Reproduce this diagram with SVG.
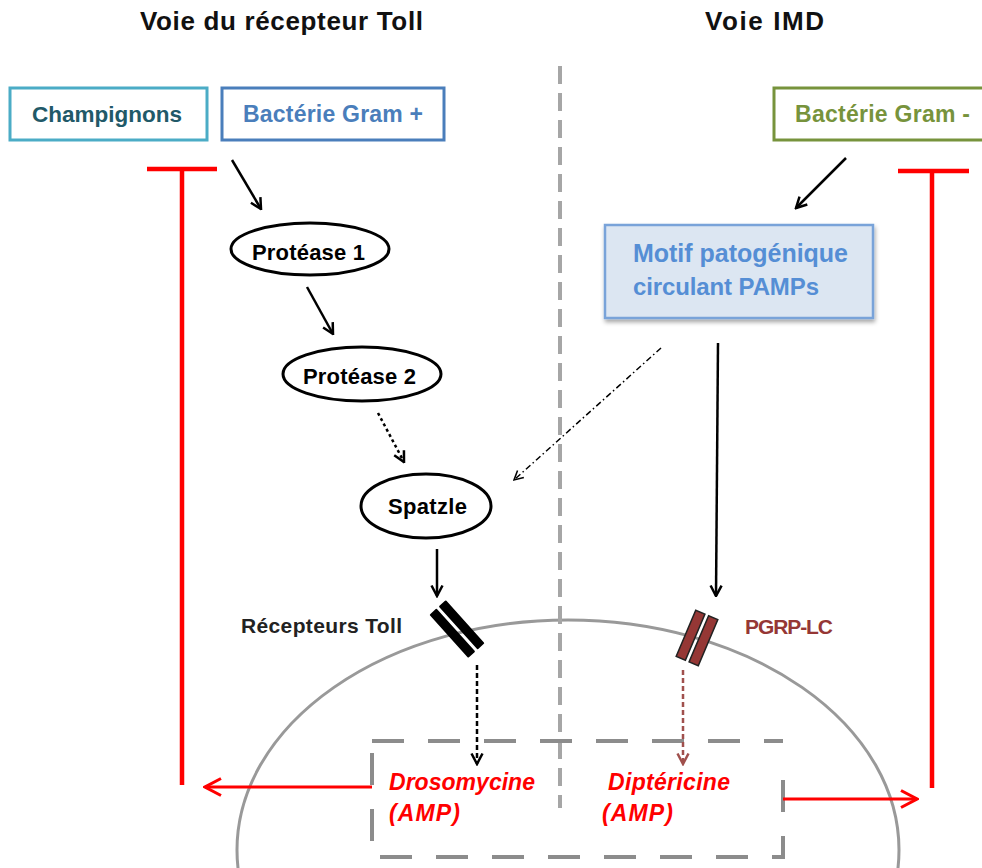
<svg xmlns="http://www.w3.org/2000/svg" width="982" height="868" viewBox="0 0 982 868">
<style>
  .t { font-family: "Liberation Sans", Arial, sans-serif; font-weight: bold; }
  .title { font-size: 26px; fill: #111; }
  .node { font-size: 22px; fill: #000; }
  .ell { fill: #fff; stroke: #000; stroke-width: 3; }
  .amp { font-size: 23px; font-style: italic; fill: #ff0000; }
  .red { stroke: #ff0000; stroke-width: 4.5; fill: none; }
  .redarr { stroke: #ff0000; stroke-width: 3; fill: none; }
  .blk { stroke: #000; stroke-width: 2.5; fill: none; }
  .gray { stroke: #8c8c8c; stroke-width: 4; fill: none; stroke-dasharray: 32 24; }
</style>
<defs>
  <marker id="ab" viewBox="0 0 14 14" refX="12.5" refY="7" markerWidth="14" markerHeight="14" markerUnits="userSpaceOnUse" orient="auto">
    <path d="M2,1.5 L12.5,7 L2,12.5" fill="none" stroke="#000" stroke-width="2.5"/>
  </marker>
  <marker id="abs" viewBox="0 0 14 14" refX="12.5" refY="7" markerWidth="12" markerHeight="12" markerUnits="userSpaceOnUse" orient="auto">
    <path d="M2,1.5 L12.5,7 L2,12.5" fill="none" stroke="#000" stroke-width="1.8"/>
  </marker>
  <marker id="abr" viewBox="0 0 14 14" refX="12.5" refY="7" markerWidth="14" markerHeight="14" markerUnits="userSpaceOnUse" orient="auto">
    <path d="M2,1.5 L12.5,7 L2,12.5" fill="none" stroke="#a0504d" stroke-width="2.5"/>
  </marker>
  <marker id="ar" viewBox="0 0 20 20" refX="18" refY="10" markerWidth="20" markerHeight="20" markerUnits="userSpaceOnUse" orient="auto">
    <path d="M2,1.5 L18,10 L2,18.5" fill="none" stroke="#ff0000" stroke-width="3"/>
  </marker>
  <filter id="sh" x="-10%" y="-10%" width="120%" height="130%">
    <feDropShadow dx="1" dy="3" stdDeviation="2" flood-color="#000" flood-opacity="0.35"/>
  </filter>
</defs>

<rect width="982" height="868" fill="#fff"/>

<!-- titles -->
<text class="t title" x="140" y="30" textLength="283">Voie du récepteur Toll</text>
<text class="t title" x="705" y="30" textLength="119">Voie IMD</text>

<!-- cell membrane and nucleus region -->
<g id="cell">
  <ellipse cx="568" cy="850" rx="331" ry="230" fill="none" stroke="#999" stroke-width="3"/>
</g>
<g id="separator">
  <line x1="560" y1="66" x2="560" y2="808" stroke="#a6a6a6" stroke-width="4" stroke-dasharray="18 9"/>
</g>
<g id="nucleus-box">
  <path class="gray" d="M372,741 H783"/>
  <path class="gray" d="M372,753 V857 H783 V762"/>
</g>

<!-- source nodes -->
<g id="champignons">
  <rect x="10" y="88" width="197" height="52" fill="#fff" stroke="#4bacc6" stroke-width="3"/>
  <text class="t" x="32" y="122" font-size="22.5" fill="#215968" textLength="150">Champignons</text>
</g>
<g id="gram-plus">
  <rect x="222" y="88" width="222" height="52" fill="#fff" stroke="#4a7ebb" stroke-width="3"/>
  <text class="t" x="243" y="122" font-size="23" fill="#4a7ebb" textLength="180">Bactérie Gram +</text>
</g>
<g id="gram-minus">
  <rect x="774" y="88" width="230" height="52" fill="#fff" stroke="#77933c" stroke-width="3"/>
  <text class="t" x="795" y="122" font-size="23" fill="#77933c" textLength="175">Bactérie Gram -</text>
</g>

<!-- inhibition bars -->
<g id="inhib-left">
  <path class="red" d="M147,169 H217 M182,169 V785"/>
</g>
<g id="inhib-right">
  <path class="red" d="M898,171 H969 M932,171 V788"/>
</g>

<!-- Toll pathway nodes -->
<g id="protease1">
  <ellipse class="ell" cx="310" cy="249" rx="79" ry="26"/>
  <text class="t node" x="252" y="260" textLength="113">Protéase 1</text>
</g>
<g id="protease2">
  <ellipse class="ell" cx="362" cy="374" rx="79" ry="27"/>
  <text class="t node" x="303" y="384" textLength="113">Protéase 2</text>
</g>
<g id="spatzle">
  <ellipse class="ell" cx="426" cy="506" rx="65" ry="32"/>
  <text class="t node" x="388" y="514" textLength="79">Spatzle</text>
</g>

<!-- PAMPs -->
<g id="pamps">
  <rect x="605" y="225" width="268" height="93" fill="#dce6f2" stroke="#79a3d9" stroke-width="2.5" filter="url(#sh)"/>
  <text class="t" x="633" y="262" font-size="25" fill="#558ed5" textLength="215">Motif patogénique</text>
  <text class="t" x="633" y="295" font-size="24" fill="#558ed5" textLength="186">circulant PAMPs</text>
</g>

<!-- receptors -->
<g id="toll-receptor">
  <g transform="translate(457,629) rotate(-42)">
    <rect x="-11" y="-29" width="9.5" height="58" fill="#000" rx="1"/>
    <rect x="1.5" y="-29" width="9.5" height="58" fill="#000" rx="1"/>
  </g>
  <text class="t" x="241" y="633" font-size="21" fill="#222" textLength="161">Récepteurs Toll</text>
</g>
<g id="pgrp-lc">
  <g transform="translate(697,638) rotate(23)">
    <rect x="-12" y="-25" width="10" height="50" fill="#953735" stroke="#222" stroke-width="1.5"/>
    <rect x="2" y="-25" width="10" height="50" fill="#953735" stroke="#222" stroke-width="1.5"/>
  </g>
  <text class="t" x="745" y="634" font-size="21" fill="#953735" textLength="88">PGRP-LC</text>
</g>

<!-- AMP labels -->
<g id="drosomycine">
  <text class="t amp" x="389" y="790" textLength="146">Drosomycine</text>
  <text class="t amp" x="389" y="821" textLength="71">(AMP)</text>
</g>
<g id="diptericine">
  <text class="t amp" x="608" y="790" textLength="122">Diptéricine</text>
  <text class="t amp" x="602" y="821" textLength="71">(AMP)</text>
</g>

<!-- connectors -->
<g id="connectors">
  <line class="blk" x1="232" y1="160" x2="261" y2="209" marker-end="url(#ab)"/>
  <line class="blk" x1="307" y1="287" x2="333" y2="334" marker-end="url(#ab)"/>
  <line class="blk" x1="378" y1="413" x2="404" y2="462" stroke-dasharray="3 3" stroke-width="3" marker-end="url(#ab)"/>
  <line class="blk" x1="437" y1="549" x2="437" y2="596" marker-end="url(#ab)"/>
  <line class="blk" x1="846" y1="158" x2="796" y2="208" marker-end="url(#ab)"/>
  <line class="blk" x1="718" y1="343" x2="716" y2="596" marker-end="url(#ab)"/>
  <line x1="661" y1="348" x2="514" y2="480" stroke="#000" stroke-width="1.5" stroke-dasharray="6 3 1.5 3" marker-end="url(#abs)"/>
  <line class="blk" x1="477" y1="665" x2="477" y2="764" stroke-dasharray="5 3" marker-end="url(#ab)"/>
  <line x1="683" y1="670" x2="683" y2="764" stroke="#a0504d" stroke-width="2.5" stroke-dasharray="5 3" marker-end="url(#abr)"/>
  <line class="redarr" x1="372" y1="787" x2="205" y2="787" marker-end="url(#ar)"/>
  <line class="redarr" x1="783" y1="799" x2="917" y2="799" marker-end="url(#ar)"/>
</g>
</svg>
